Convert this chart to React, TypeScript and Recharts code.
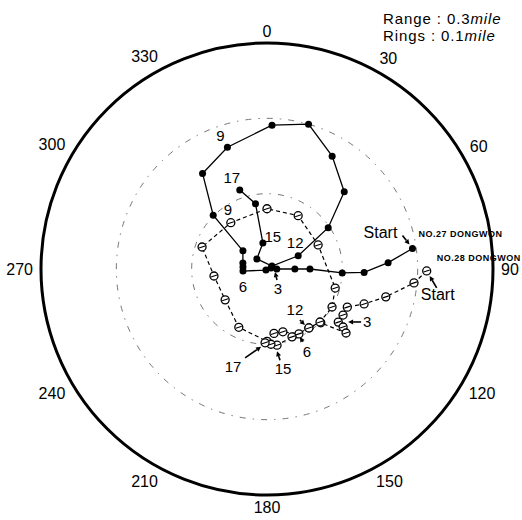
import React from "react";
import { RadarChart, Radar, PolarGrid, PolarAngleAxis, PolarRadiusAxis } from "recharts";

const bearingTicks = [0, 30, 60, 90, 120, 150, 180, 210, 240, 270, 300, 330];
const shipNames = ["NO.27 DONGWON", "NO.28 DONGWON"];

// NO.27 DONGWON: bearing (deg) and range (mile) from the centre
const bearing27 = [82, 87, 92, 93, 90, 90, 90, 76, 225, 265, 275, 284, 307, 315, 326, 342, 2, 16, 30, 45, 56, 67, 59, 315, 351, 350, 341];
const range27 = [0.195, 0.161, 0.129, 0.1, 0.057, 0.037, 0.013, 0.0055, 0.002, 0.032, 0.032, 0.033, 0.04, 0.101, 0.153, 0.17, 0.191, 0.2, 0.173, 0.145, 0.098, 0.045, 0.0077, 0.019, 0.035, 0.088, 0.111];
const marks27 = ["Start", "", "", "", "", "", "", "3", "", "6", "", "", "", "", "", "9", "", "", "", "", "", "12", "", "", "15", "", "17"];

// NO.28 DONGWON
const bearing28 = [90.7, 95.4, 103.2, 109.8, 115.4, 121.2, 126.7, 127.3, 129, 135, 144.6, 153.8, 165.8, 173.8, 180, 205.8, 233.6, 262.5, 288.7, 322, 0, 30.3, 64.8, 105.6, 120.3, 135, 144.6, 159.8, 172.5, 177, 181.5];
const range28 = [0.212, 0.196, 0.162, 0.137, 0.118, 0.118, 0.118, 0.127, 0.135, 0.101, 0.096, 0.096, 0.086, 0.086, 0.096, 0.086, 0.069, 0.071, 0.091, 0.078, 0.08, 0.082, 0.075, 0.094, 0.1, 0.0995, 0.096, 0.096, 0.102, 0.1, 0.098];
const marks28 = ["Start", "", "", "", "", "", "", "3", "", "", "", "6", "", "", "", "", "", "", "", "9", "", "", "", "", "", "", "12", "", "15", "", "17"];

const data = [
  ...bearing27.map((b, i) => ({ bearing: b, r27: range27[i], mark27: marks27[i] })),
  ...bearing28.map((b, i) => ({ bearing: b, r28: range28[i], mark28: marks28[i] })),
];

// label placement relative to the marked point: text offset, optional arrow
type Place = { t: [number, number]; a?: [number, number, number, number]; name?: [number, number] };
const place27: Record<string, Place> = {
  Start: { t: [-32, -16], a: [-10, -13, -3, -4], name: [6, -15] },
  "3": { t: [7, 21], a: [6, 12, 4, 4] },
  "6": { t: [0, 15] },
  "9": { t: [-7, -12] },
  "12": { t: [-3, -13] },
  "15": { t: [10, -6] },
  "17": { t: [-8, -12] },
};
const place28: Record<string, Place> = {
  Start: { t: [11, 24], a: [10, 17, 3, 5], name: [10, -13] },
  "3": { t: [24, -5], a: [18, -5, 5, -5] },
  "6": { t: [8, 18], a: [4, 8, 1, 3] },
  "9": { t: [-3, -13] },
  "12": { t: [-14, -18], a: [-9, -8, -4, -3] },
  "15": { t: [6, 23], a: [3, 15, 0, 6] },
  "17": { t: [-32, 24], a: [-20, 15, -4, 4] },
};

const font = "'Liberation Sans', Arial, sans-serif";

function Arrow({ x1, y1, x2, y2 }: { x1: number; y1: number; x2: number; y2: number }) {
  const dx = x2 - x1;
  const dy = y2 - y1;
  const len = Math.hypot(dx, dy) || 1;
  const ux = dx / len;
  const uy = dy / len;
  const hx = x2 - ux * 5;
  const hy = y2 - uy * 5;
  return (
    <g>
      <line x1={x1} y1={y1} x2={hx} y2={hy} stroke="#000" strokeWidth={1.6} />
      <polygon points={`${x2},${y2} ${hx - uy * 2.5},${hy + ux * 2.5} ${hx + uy * 2.5},${hy - ux * 2.5}`} fill="#000" />
    </g>
  );
}

function Note({ cx, cy, label, p, ship }: { cx: number; cy: number; label: string; p?: Place; ship: string }) {
  if (!p) return null;
  return (
    <g>
      {p.a && <Arrow x1={cx + p.a[0]} y1={cy + p.a[1]} x2={cx + p.a[2]} y2={cy + p.a[3]} />}
      <text x={cx + p.t[0]} y={cy + p.t[1]} textAnchor="middle" dominantBaseline="central" fontSize={label === "Start" ? 16 : 15} fontFamily={font} fill="#000">
        {label}
      </text>
      {p.name && (
        <text x={cx + p.name[0]} y={cy + p.name[1]} dominantBaseline="central" fontSize={9} fontWeight="bold" letterSpacing={0.5} fontFamily={font} fill="#000">
          {ship}
        </text>
      )}
    </g>
  );
}

function rowOf(p: any) {
  const pl = (p && p.payload) || {};
  return pl.payload || pl;
}

function Dot27(props: any) {
  const { cx, cy, index } = props;
  const row = rowOf(props);
  if (!Number.isFinite(cx) || !Number.isFinite(cy) || row.r27 == null) return <g key={`d27-${index}`} />;
  return (
    <g key={`d27-${index}`}>
      <circle cx={cx} cy={cy} r={3.5} fill="#000" />
      {row.mark27 && <Note cx={cx} cy={cy} label={row.mark27} p={place27[row.mark27]} ship={shipNames[0]} />}
    </g>
  );
}

function Dot28(props: any) {
  const { cx, cy, index } = props;
  const row = rowOf(props);
  if (!Number.isFinite(cx) || !Number.isFinite(cy) || row.r28 == null) return <g key={`d28-${index}`} />;
  return (
    <g key={`d28-${index}`}>
      <circle cx={cx} cy={cy} r={4} fill="#fff" stroke="#000" strokeWidth={1.3} />
      <line x1={cx - 3} y1={cy + 1} x2={cx + 3} y2={cy - 1} stroke="#000" strokeWidth={1.1} />
      {row.mark28 && <Note cx={cx} cy={cy} label={row.mark28} p={place28[row.mark28]} ship={shipNames[1]} />}
    </g>
  );
}

// open track through the points the library placed; rows of the other ship are skipped
function trackShape(key: string, dash?: string) {
  return (props: any) => {
    const pts = (props.points || []).filter(
      (p: any) => Number.isFinite(p.x) && Number.isFinite(p.y) && p.payload && p.payload[key] != null
    );
    const d = pts.map((p: any, i: number) => `${i ? "L" : "M"}${p.x},${p.y}`).join(" ");
    return <path d={d} fill="none" stroke="#000" strokeWidth={dash ? 1.2 : 1.3} strokeDasharray={dash} />;
  };
}

function AngleTick(props: any) {
  const { x, y, payload } = props;
  const v = Number(payload?.value);
  if (!Number.isFinite(v) || v >= 360) return <g />;
  const rad = (v * Math.PI) / 180;
  const ux = Math.sin(rad);
  const uy = -Math.cos(rad);
  const w = String(v).length * 8.9;
  const shift = Math.abs(ux) * (w / 2 + 2) + Math.abs(uy) * 6;
  return (
    <text x={x + ux * shift} y={y + uy * shift} textAnchor="middle" dominantBaseline="central" fontSize={16} fontFamily={font} fill="#000">
      {v}
    </text>
  );
}

export default function App() {
  return (
    <div style={{ position: "absolute", left: 0, top: 0, width: 522, height: 520, background: "#fff", fontFamily: font }}>
      <RadarChart
        width={522}
        height={520}
        data={data}
        cx={267}
        cy={269}
        outerRadius={226}
        startAngle={90}
        endAngle={-270}
        margin={{ top: 0, right: 0, bottom: 0, left: 0 }}
      >
        <PolarGrid gridType="circle" radialLines={false} stroke="#777" strokeWidth={1} strokeDasharray="6 7 1.5 7" />
        <PolarRadiusAxis type="number" domain={[0, 0.3]} ticks={[0.1, 0.2]} tickCount={4} tick={false} axisLine={false} tickLine={false} />
        <PolarAngleAxis
          type="number"
          dataKey="bearing"
          domain={[0, 360]}
          ticks={bearingTicks}
          tickCount={13}
          tick={<AngleTick />}
          tickLine={false}
          tickSize={6}
          axisLineType="circle"
          axisLine={{ stroke: "#000", strokeWidth: 3 }}
        />
        <Radar dataKey="r28" stroke="#000" fill="none" isAnimationActive={false} shape={trackShape("r28", "4 3")} dot={Dot28} />
        <Radar dataKey="r27" stroke="#000" fill="none" isAnimationActive={false} shape={trackShape("r27")} dot={Dot27} />
      </RadarChart>
      <div style={{ position: "absolute", left: 383, top: 10, fontSize: 15, lineHeight: "17px", letterSpacing: 0.9, color: "#000" }}>
        Range : 0.3<i>mile</i>
        <br />
        Rings : 0.1<i>mile</i>
      </div>
    </div>
  );
}
